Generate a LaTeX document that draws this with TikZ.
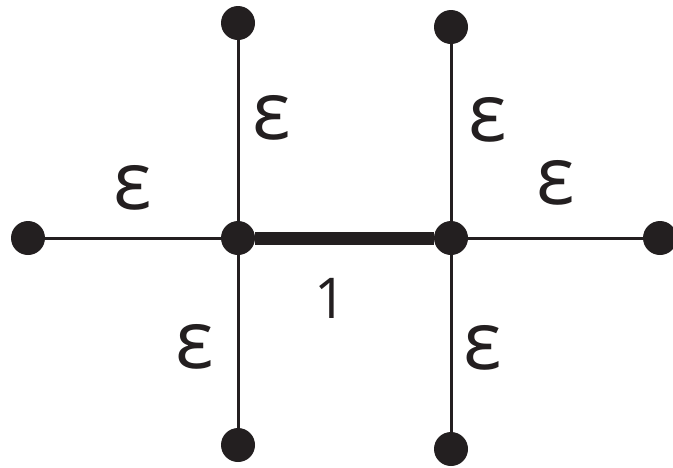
\documentclass[tikz,border=0pt]{standalone}
\usepackage{fontspec}
\setmainfont{Open Sans}
\usepackage{tikz}
\usetikzlibrary{calc}
\definecolor{ink}{RGB}{35,31,32}

\begin{document}
\begin{tikzpicture}[inner sep=0pt,
  dot/.style={circle,fill=ink,minimum size=0.68cm},
  lab/.style={font=\fontsize{46}{50}\selectfont,text=ink},
  thin/.style={draw=ink,line width=0.06cm},
  thick/.style={draw=ink,line width=0.26cm}]
\useasboundingbox (0,0) rectangle (13.46,-9.34);
\node[dot] (c1) at (4.76, -4.76) {};
\node[dot] (c2) at (9.02, -4.76) {};
\node[dot] (t1) at (4.76, -0.46) {};
\node[dot] (t2) at (9.02, -0.54) {};
\node[dot] (l) at (0.56, -4.76) {};
\node[dot] (r) at (13.2, -4.76) {};
\node[dot] (b1) at (4.76, -8.9) {};
\node[dot] (b2) at (9.02, -8.98) {};

\draw[thin] (l) -- (c1);
\draw[thin] (c2) -- (r);
\draw[thin] (t1) -- (c1) -- (b1);
\draw[thin] (t2) -- (c2) -- (b2);
\draw[thick] (c1) -- (c2);

\node[lab] at ($(c1) + (-2.1, 1.0)$) {ε};
\node[lab] at ($(c1) + (0.68, 2.4)$) {ε};
\node[lab] at ($(c2) + (0.74, 2.36)$) {ε};
\node[lab] at ($(c2) + (2.1, 1.1)$) {ε};
\node[lab] at ($(c1) + (-0.86, -2.18)$) {ε};
\node[lab] at ($(c2) + (0.64, -2.2)$) {ε};
\node[lab,font=\fontsize{32}{36}\selectfont] at ($(c1) + (1.86, -1.2)$) {1};
\end{tikzpicture}
\end{document}
